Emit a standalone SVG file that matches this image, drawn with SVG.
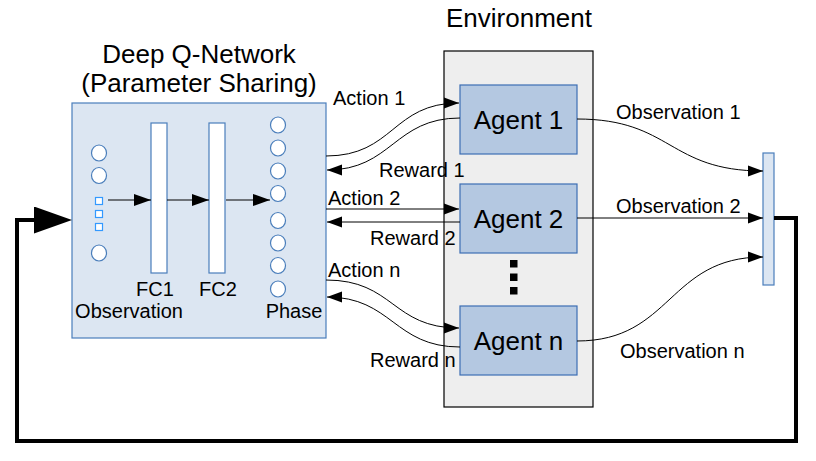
<svg xmlns="http://www.w3.org/2000/svg" width="816" height="461" viewBox="0 0 816 461">
<style>
text{font-family:"Liberation Sans",Arial,sans-serif;fill:#000}
.t26{font-size:26px}
.t20{font-size:20px}
.dqn{fill:#dce6f2;stroke:#4a7ebb;stroke-width:1.2}
.fc{fill:#fff;stroke:#4a7ebb;stroke-width:1.2}
.neu{fill:#fff;stroke:#4a7ebb;stroke-width:1.2}
.sq{fill:#fff;stroke:#3399ff;stroke-width:1.2}
.agent{fill:#b4c8e1;stroke:#3c6eb4;stroke-width:1.2}
.env{fill:#eeeeee;stroke:#000;stroke-width:1.2}
.ln{fill:none;stroke:#000;stroke-width:1}
.thick{fill:none;stroke:#000;stroke-width:4}
</style>
<defs>
<marker id="ah" markerUnits="userSpaceOnUse" markerWidth="16" markerHeight="12" refX="15" refY="6" orient="auto">
<path d="M0,0.5 L15,6 L0,11.5 z" fill="#000"/>
</marker>
<marker id="ah2" markerUnits="userSpaceOnUse" markerWidth="17" markerHeight="13" refX="17" refY="6.5" orient="auto">
<path d="M0,0.5 L17,6.5 L0,12.5 z" fill="#000"/>
</marker>
<marker id="big" markerUnits="userSpaceOnUse" markerWidth="40" markerHeight="28" refX="16" refY="13.5" orient="auto">
<path d="M0,0 L38,13.5 L0,27 z" fill="#000"/>
</marker>
</defs>

<g id="titles">
<text class="t26" x="199" y="63" text-anchor="middle">Deep Q-Network</text>
<text class="t26" x="199" y="92" text-anchor="middle">(Parameter Sharing)</text>
<text class="t26" x="519" y="27" text-anchor="middle">Environment</text>
</g>

<g id="dqn">
<rect class="dqn" x="72" y="103" width="254" height="235"/>
<g id="obs-input">
<ellipse class="neu" cx="99" cy="153" rx="7.5" ry="8"/>
<ellipse class="neu" cx="99" cy="175.5" rx="7.5" ry="8"/>
<rect class="sq" x="95.5" y="197.5" width="7" height="7"/>
<rect class="sq" x="95.5" y="210.5" width="7" height="7"/>
<rect class="sq" x="95.5" y="223.5" width="7" height="7"/>
<ellipse class="neu" cx="99" cy="253" rx="7.5" ry="8"/>
</g>
<rect id="fc1" class="fc" x="151" y="123" width="16" height="150"/>
<rect id="fc2" class="fc" x="209" y="123" width="16" height="150"/>
<g id="phase">
<ellipse class="neu" cx="278" cy="125" rx="7.5" ry="8"/>
<ellipse class="neu" cx="278" cy="148" rx="7.5" ry="8"/>
<ellipse class="neu" cx="278" cy="171" rx="7.5" ry="8"/>
<ellipse class="neu" cx="278" cy="193.5" rx="7.5" ry="8"/>
<ellipse class="neu" cx="278" cy="220.5" rx="7.5" ry="8"/>
<ellipse class="neu" cx="278" cy="243" rx="7.5" ry="8"/>
<ellipse class="neu" cx="278" cy="265.5" rx="7.5" ry="8"/>
<ellipse class="neu" cx="278" cy="289" rx="7.5" ry="8"/>
</g>
<text class="t20" x="155" y="296" text-anchor="middle">FC1</text>
<text class="t20" x="218" y="296" text-anchor="middle">FC2</text>
<text class="t20" x="129" y="318" text-anchor="middle">Observation</text>
<text class="t20" x="294" y="318" text-anchor="middle">Phase</text>
</g>

<g id="environment">
<rect class="env" x="444" y="51" width="149" height="356"/>
</g>
<g id="agent1">
<rect class="agent" x="460" y="85" width="117" height="69"/>
<text class="t26" x="518.5" y="129" text-anchor="middle">Agent 1</text>
</g>
<g id="agent2">
<rect class="agent" x="460" y="184" width="117" height="69"/>
<text class="t26" x="518.5" y="228" text-anchor="middle">Agent 2</text>
</g>
<g id="ellipsis">
<rect x="510" y="260" width="7.5" height="7.5" fill="#000"/>
<rect x="510" y="273.5" width="7.5" height="7.5" fill="#000"/>
<rect x="510" y="287" width="7.5" height="7.5" fill="#000"/>
</g>
<g id="agentn">
<rect class="agent" x="460" y="306" width="117" height="69"/>
<text class="t26" x="518.5" y="350" text-anchor="middle">Agent n</text>
</g>
<g id="collector">
<rect class="dqn" x="763" y="153" width="11" height="132"/>
</g>

<g id="connectors">
<path class="ln" d="M108,200 H151" marker-end="url(#ah2)"/>
<path class="ln" d="M167,200 H209" marker-end="url(#ah2)"/>
<path class="ln" d="M226,200 H270" marker-end="url(#ah2)"/>
<path class="ln" d="M326,156 C394,156 392,103 459,103" marker-end="url(#ah)"/>
<path class="ln" d="M460,118 C394,118 392,170 327,170" marker-end="url(#ah)"/>
<path class="ln" d="M326,209 H459" marker-end="url(#ah)"/>
<path class="ln" d="M460,222 H327" marker-end="url(#ah)"/>
<path class="ln" d="M326,280 C394,280 392,328 459,328" marker-end="url(#ah)"/>
<path class="ln" d="M460,347 C394,347 392,297 327,297" marker-end="url(#ah)"/>
<path class="ln" d="M577,119 C672,119 668,171 763,171" marker-end="url(#ah)"/>
<path class="ln" d="M577,218 H763" marker-end="url(#ah)"/>
<path class="ln" d="M577,341 C672,341 668,257 763,257" marker-end="url(#ah)"/>
<path class="thick" d="M774,218 H796 V441 H17 V220 H50" marker-end="url(#big)"/>
</g>

<g id="labels">
<text class="t20" x="333" y="105">Action 1</text>
<text class="t20" x="379" y="177">Reward 1</text>
<text class="t20" x="328" y="205">Action 2</text>
<text class="t20" x="370" y="245">Reward 2</text>
<text class="t20" x="328" y="277">Action n</text>
<text class="t20" x="370" y="367">Reward n</text>
<text class="t20" x="616" y="119">Observation 1</text>
<text class="t20" x="616" y="213">Observation 2</text>
<text class="t20" x="620" y="358">Observation n</text>
</g>
</svg>
